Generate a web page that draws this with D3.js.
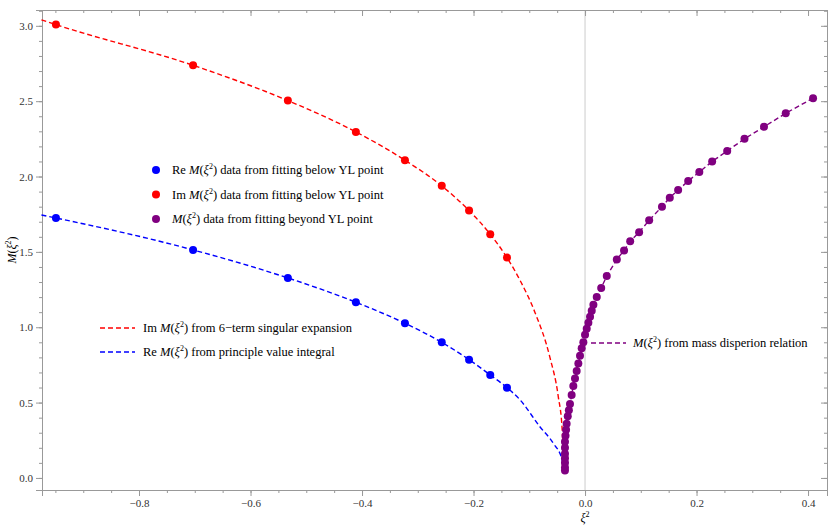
<!DOCTYPE html><html><head><meta charset="utf-8"><script src="https://cdn.jsdelivr.net/npm/d3@7"></script>
<style>body{margin:0;background:#fff}svg text{font-family:"Liberation Serif","DejaVu Serif",serif !important}</style></head><body><svg id="c" width="830" height="528"></svg><script>
const redX=[-0.949,-0.703,-0.533,-0.411,-0.323,-0.257,-0.208,-0.170,-0.140];
const redY=[3.008,2.738,2.504,2.296,2.108,1.938,1.774,1.617,1.462];
const blueX=[-0.949,-0.703,-0.533,-0.411,-0.323,-0.257,-0.208,-0.170,-0.140];
const blueY=[1.725,1.513,1.327,1.166,1.026,0.900,0.785,0.683,0.599];
const purX=[0.409,0.360,0.321,0.286,0.255,0.228,0.205,0.185,0.167,0.152,0.138,0.115,0.097,0.081,0.070,0.057,0.039,0.029,0.021,0.015,0.012,0.009,0.006,0.003,0.0,-0.003,-0.006,-0.009,-0.012,-0.015,-0.018,-0.021,-0.024,-0.027,-0.029,-0.031,-0.033,-0.034,-0.035,-0.036,-0.036,-0.036,-0.036,-0.036,-0.036,-0.036];
const purY=[2.52,2.42,2.33,2.25,2.17,2.10,2.03,1.97,1.91,1.86,1.80,1.71,1.63,1.57,1.51,1.45,1.34,1.26,1.20,1.15,1.11,1.07,1.03,0.99,0.95,0.90,0.86,0.81,0.76,0.71,0.66,0.61,0.55,0.49,0.45,0.41,0.36,0.32,0.28,0.24,0.20,0.16,0.13,0.10,0.07,0.05];
const redCurveX=[-0.975,-0.949,-0.703,-0.533,-0.411,-0.323,-0.257,-0.208,-0.170,-0.140,-0.115,-0.09,-0.063,-0.048,-0.041,-0.038];
const redCurveY=[3.04,3.008,2.738,2.504,2.296,2.108,1.938,1.774,1.617,1.462,1.30,1.10,0.80,0.54,0.32,0.05];
const blueCurveX=[-0.975,-0.949,-0.703,-0.533,-0.411,-0.323,-0.257,-0.208,-0.170,-0.140,-0.117,-0.081,-0.057,-0.041,-0.038];
const blueCurveY=[1.745,1.725,1.513,1.327,1.166,1.026,0.900,0.785,0.683,0.599,0.52,0.34,0.23,0.12,0.05];
const xTicks=[-0.8,-0.6,-0.4,-0.2,0.0,0.2,0.4];
const yTicks=[0.0,0.5,1.0,1.5,2.0,2.5,3.0];

const svg=d3.select("#c");
const F="Liberation Serif";
const L=42,R=827,T=10,B=490;
const x=d3.scaleLinear().domain([-0.974,0.434]).range([L,R]);
const y=d3.scaleLinear().domain([-0.08,3.105]).range([B,T]);
svg.append("line").attr("x1",x(0)).attr("x2",x(0)).attr("y1",T).attr("y2",B).attr("stroke","#ccc");
const ax=(g,axis)=>{g.call(axis);g.attr("font-family",F);g.select(".domain").attr("stroke","#999");g.selectAll("line").attr("stroke","#999");g.selectAll("text").attr("font-size",11).attr("fill","#333");};
const minorX=d3.range(-0.95,0.43,0.05), minorY=d3.range(0,3.11,0.1);
ax(svg.append("g").attr("transform",`translate(0,${B})`),d3.axisBottom(x).tickValues(minorX).tickSize(3).tickFormat(""));
ax(svg.append("g").attr("transform",`translate(0,${B})`),d3.axisBottom(x).tickValues(xTicks).tickSize(6).tickFormat(d=>d.toFixed(1).replace("-","−")));
ax(svg.append("g").attr("transform",`translate(0,${T})`),d3.axisTop(x).tickValues(minorX).tickSize(-3).tickFormat(""));
ax(svg.append("g").attr("transform",`translate(0,${T})`),d3.axisTop(x).tickValues(xTicks).tickSize(-6).tickFormat(""));
ax(svg.append("g").attr("transform",`translate(${L},0)`),d3.axisLeft(y).tickValues(minorY).tickSize(3).tickFormat(""));
ax(svg.append("g").attr("transform",`translate(${L},0)`),d3.axisLeft(y).tickValues(yTicks).tickSize(6).tickFormat(d=>d.toFixed(1)));
ax(svg.append("g").attr("transform",`translate(${R},0)`),d3.axisRight(y).tickValues(minorY).tickSize(-3).tickFormat(""));
ax(svg.append("g").attr("transform",`translate(${R},0)`),d3.axisRight(y).tickValues(yTicks).tickSize(-6).tickFormat(""));
const line=d3.line().x(d=>x(d[0])).y(d=>y(d[1])).curve(d3.curveMonotoneX);
const dash="5,3";
svg.append("path").attr("d",line(blueCurveX.map((v,i)=>[v,blueCurveY[i]]))).attr("fill","none").attr("stroke","#0000ff").attr("stroke-width",1.4).attr("stroke-dasharray",dash);
svg.append("path").attr("d",line(redCurveX.map((v,i)=>[v,redCurveY[i]]))).attr("fill","none").attr("stroke","#ff0000").attr("stroke-width",1.4).attr("stroke-dasharray",dash);
const pl=d3.line().x(d=>x(d[0])).y(d=>y(d[1]));
svg.append("path").attr("d",pl(purX.map((v,i)=>[v,purY[i]]))).attr("fill","none").attr("stroke","#800080").attr("stroke-width",1.4).attr("stroke-dasharray",dash);
const dots=(X,Y,c)=>svg.append("g").selectAll("circle").data(X).join("circle").attr("cx",d=>x(d)).attr("cy",(d,i)=>y(Y[i])).attr("r",4).attr("fill",c);
dots(blueX,blueY,"#0000ff");dots(redX,redY,"#ff0000");dots(purX,purY,"#800080");
const lab=(g,pre,rest)=>{g.attr("font-family",F);g.append("tspan").text(pre);g.append("tspan").attr("font-style","italic").text(pre?" M":"M");g.append("tspan").text("(");g.append("tspan").attr("font-style","italic").text("ξ");g.append("tspan").attr("font-size",8).attr("dy",-5).text("2");g.append("tspan").attr("dy",5).text(")"+rest);};
const leg=[["#0000ff","Re"," data from fitting below YL point"],["#ff0000","Im"," data from fitting below YL point"],["#800080",""," data from fitting beyond YL point"]];
leg.forEach((d,i)=>{const yy=170+i*24.5;svg.append("circle").attr("cx",156).attr("cy",yy).attr("r",4).attr("fill",d[0]);
 lab(svg.append("text").attr("x",172).attr("y",yy+4).attr("font-size",12.5),d[1],d[2]);});
const leg2=[["#ff0000","Im"," from 6−term singular expansion",328],["#0000ff","Re"," from principle value integral",352]];
leg2.forEach(d=>{svg.append("line").attr("x1",100).attr("x2",135).attr("y1",d[3]).attr("y2",d[3]).attr("stroke",d[0]).attr("stroke-width",1.4).attr("stroke-dasharray",dash);
 lab(svg.append("text").attr("x",143).attr("y",d[3]+4).attr("font-size",12.5),d[1],d[2]);});
svg.append("line").attr("x1",591).attr("x2",626).attr("y1",343).attr("y2",343).attr("stroke","#800080").attr("stroke-width",1.4).attr("stroke-dasharray",dash);
lab(svg.append("text").attr("x",633).attr("y",347).attr("font-size",12.5),""," from mass disperion relation");
const xl=svg.append("text").attr("x",x(0)).attr("y",522).attr("text-anchor","middle").attr("font-size",12).attr("font-family",F);
xl.append("tspan").attr("font-style","italic").text("ξ");xl.append("tspan").attr("font-size",8).attr("dy",-5).text("2");
const yl=svg.append("text").attr("transform","translate(16,250) rotate(-90)").attr("text-anchor","middle").attr("font-size",12).attr("font-family",F);
yl.append("tspan").attr("font-style","italic").text("M");yl.append("tspan").text("(");yl.append("tspan").attr("font-style","italic").text("ξ");yl.append("tspan").attr("font-size",8).attr("dy",-5).text("2");yl.append("tspan").attr("dy",5).text(")");
</script></body></html>
